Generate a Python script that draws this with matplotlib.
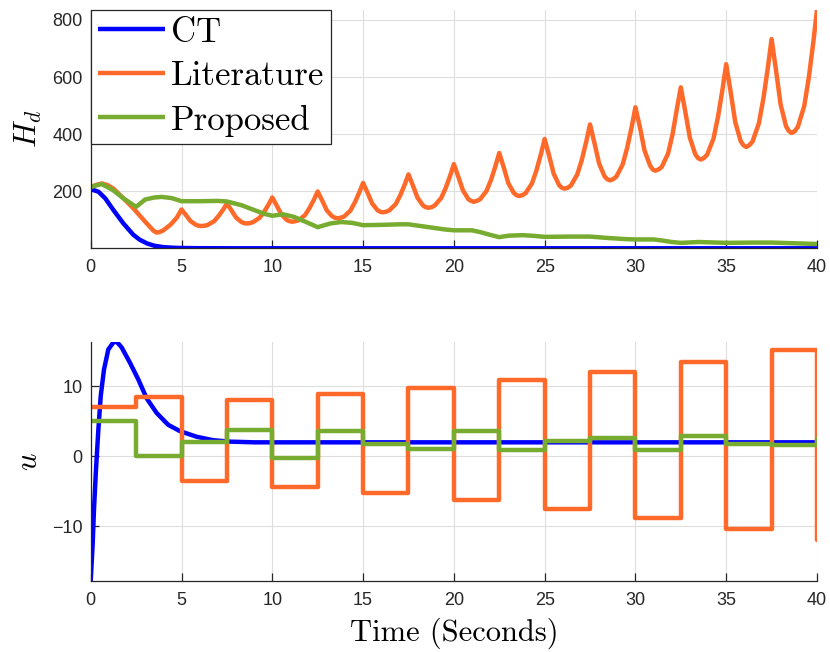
import matplotlib.pyplot as plt

plt.rcParams["mathtext.fontset"] = "cm"
plt.rcParams["font.family"] = "Liberation Sans"

CT_COLOR = "#0000FF"
LIT_COLOR = "#FF6929"
PROP_COLOR = "#77AC30"
AXIS_COLOR = "#262626"
GRID_COLOR = "#DEDEDE"

# ---- Hamiltonian H_d ----
t_hd_ct = [0, 0.2, 0.43, 0.8, 1.25, 1.8, 2.35, 2.7, 3.1, 3.5, 4.0, 4.5, 5.0, 6.0, 8.0, 40.0]
hd_ct = [207, 203, 198, 175, 134, 87, 47, 30, 17, 9, 4, 2, 1, 0.3, 0.05, 0.01]

t_hd_lit = [
    0, 0.3, 0.6, 0.9, 1.25, 1.8, 2.35, 3.0, 3.3, 3.45, 3.63, 3.8, 4.0, 4.4, 4.75, 5.0,
    5.25, 5.5, 5.8, 5.95, 6.1, 6.27, 6.45, 6.8, 7.05, 7.3, 7.5,
    7.75, 8.0, 8.3, 8.45, 8.6, 8.77, 8.95, 9.3, 9.55, 9.8, 10.0,
    10.25, 10.5, 10.8, 10.95, 11.1, 11.27, 11.45, 11.8, 12.05, 12.3, 12.5,
    12.75, 13.0, 13.3, 13.45, 13.6, 13.77, 13.95, 14.3, 14.55, 14.8, 15.0,
    15.25, 15.5, 15.8, 15.95, 16.1, 16.27, 16.45, 16.8, 17.05, 17.3, 17.5,
    17.75, 18.0, 18.3, 18.45, 18.6, 18.77, 18.95, 19.3, 19.55, 19.8, 20.0,
    20.25, 20.5, 20.8, 20.95, 21.1, 21.27, 21.45, 21.8, 22.05, 22.3, 22.5,
    22.75, 23.0, 23.3, 23.45, 23.6, 23.77, 23.95, 24.3, 24.55, 24.8, 25.0,
    25.25, 25.5, 25.8, 25.95, 26.1, 26.27, 26.45, 26.8, 27.05, 27.3, 27.5,
    27.75, 28.0, 28.3, 28.45, 28.6, 28.77, 28.95, 29.3, 29.55, 29.8, 30.0,
    30.25, 30.5, 30.8, 30.95, 31.1, 31.27, 31.45, 31.8, 32.05, 32.3, 32.5,
    32.75, 33.0, 33.3, 33.45, 33.6, 33.77, 33.95, 34.3, 34.55, 34.8, 35.0,
    35.25, 35.5, 35.8, 35.95, 36.1, 36.27, 36.45, 36.8, 37.05, 37.3, 37.5,
    37.75, 38.0, 38.3, 38.45, 38.6, 38.77, 38.95, 39.3, 39.55, 39.8, 40.0,
]
hd_lit = [
    215, 222, 227, 222, 209, 175, 140, 93, 72, 62, 55, 57, 63, 83, 108, 136,
    116, 95, 82, 79, 78, 79, 82, 95, 114, 136, 157,
    133, 108, 92, 88, 87, 88, 92, 107, 128, 154, 178,
    149, 119, 99, 95, 93, 95, 98, 116, 141, 171, 199,
    167, 133, 112, 107, 105, 107, 111, 132, 161, 197, 229,
    194, 157, 133, 128, 126, 128, 133, 155, 186, 224, 259,
    219, 177, 150, 144, 142, 144, 150, 176, 211, 255, 295,
    250, 203, 172, 166, 163, 166, 172, 201, 240, 290, 334,
    283, 228, 194, 186, 183, 186, 193, 227, 273, 331, 383,
    324, 261, 221, 212, 209, 212, 220, 259, 310, 376, 434,
    367, 297, 252, 242, 238, 242, 251, 294, 353, 427, 494,
    424, 343, 291, 276, 272, 276, 285, 332, 401, 494, 564,
    478, 387, 329, 316, 311, 316, 328, 384, 461, 558, 645,
    546, 442, 375, 361, 355, 361, 374, 438, 525, 635, 733,
    621, 503, 427, 411, 404, 410, 426, 499, 598, 723, 835,
]

t_hd_prop = [
    0, 0.6, 1.2, 1.8, 2.5, 3.0, 3.5, 3.9, 4.45, 5.0, 6.0, 7.0, 7.5,
    8.3, 9.0, 9.6, 10.0, 10.6, 11.2, 11.9, 12.5, 13.2, 13.8, 14.4, 15.0,
    16.0, 17.0, 17.5, 18.5, 19.5, 20.0, 21.0, 21.5, 22.0, 22.5, 23.0, 23.8,
    24.5, 25.0, 26.5, 27.5, 28.5, 29.5, 30.0, 31.0, 31.5, 32.0, 32.5, 33.5,
    34.5, 35.0, 36.5, 37.5, 38.5, 39.5, 40.0,
]
hd_prop = [
    215, 225, 205, 175, 145, 171, 178, 180, 176, 165, 165, 166, 164,
    151, 134, 120, 114, 119, 110, 91, 74, 87, 92, 89, 81,
    82, 84, 84, 75, 66, 63, 63, 56, 47, 39, 44, 46,
    43, 40, 41, 41, 36, 32, 31, 31, 27, 22, 19, 22,
    20, 19, 20, 20, 18, 16, 15,
]

# ---- Control input u ----
t_u_ct = [0, 0.11, 0.18, 0.29, 0.42, 0.55, 0.73, 0.97, 1.25, 1.43, 1.7, 2.16,
          2.62, 3.08, 3.63, 4.27, 4.92, 5.83, 6.75, 7.67, 9.0, 40.0]
u_ct = [-17.8, -12.4, -7.6, -1.9, 3.8, 8.6, 12.4, 15.3, 16.3, 16.4, 15.6, 13.4,
        11.0, 8.3, 6.2, 4.5, 3.6, 2.8, 2.3, 2.1, 2.0, 2.0]

t_switch = [0, 2.5, 5, 7.5, 10, 12.5, 15, 17.5, 20, 22.5, 25, 27.5, 30,
            32.5, 35, 37.5, 40]
u_lit = [7.0, 8.5, -3.5, 8.1, -4.4, 8.9, -5.3, 9.8, -6.3, 10.9, -7.5, 12.1,
         -8.8, 13.5, -10.4, 15.2, -12.0]
u_prop = [5.1, 0.1, 2.05, 3.7, -0.2, 3.6, 1.8, 1.05, 3.65, 0.87, 2.25, 2.6,
          0.96, 2.97, 1.77, 1.58, 2.5]

LW = 3.2
LINE_KW = dict(lw=LW, solid_joinstyle="round", solid_capstyle="round")


def style_axes(ax):
    ax.set_xlim(0, 40)
    ax.set_xticks(range(0, 41, 5))
    ax.grid(True, color=GRID_COLOR, linewidth=0.8)
    ax.set_axisbelow(True)
    for side in ("top", "right"):
        ax.spines[side].set_visible(False)
    for side in ("left", "bottom"):
        ax.spines[side].set_color(AXIS_COLOR)
        ax.spines[side].set_linewidth(0.9)
    ax.tick_params(direction="in", length=5.5, width=0.9, color=AXIS_COLOR,
                   labelcolor=AXIS_COLOR, labelsize=13)
    ax.tick_params(axis="x", pad=8)
    ax.tick_params(axis="y", pad=6)


fig = plt.figure(figsize=(8.3, 6.52), dpi=100)
ax_h = fig.add_axes([0.1093, 0.6192, 0.8750, 0.3655])
ax_u = fig.add_axes([0.1093, 0.1094, 0.8750, 0.3665])

ax_h.plot(t_hd_ct, hd_ct, color=CT_COLOR, label="CT", **LINE_KW)
ax_h.plot(t_hd_lit, hd_lit, color=LIT_COLOR, label="Literature", **LINE_KW)
ax_h.plot(t_hd_prop, hd_prop, color=PROP_COLOR, label="Proposed", **LINE_KW)
style_axes(ax_h)
ax_h.set_ylim(0, max(hd_lit))
ax_h.set_yticks([200, 400, 600, 800])
ax_h.set_ylabel(r"$H_d$", fontsize=22)
ax_h.yaxis.set_label_coords(-0.064, 0.5)

leg = ax_h.legend(loc="upper left", bbox_to_anchor=(0, 1), borderaxespad=0,
                  prop={"family": "cmr10", "size": 25}, handlelength=1.93,
                  handletextpad=0.17, labelspacing=0.35, borderpad=0.2,
                  fancybox=False, edgecolor=AXIS_COLOR, framealpha=1)
leg.get_frame().set_linewidth(0.9)
for line in leg.get_lines():
    line.set_solid_capstyle("butt")

ax_u.plot(t_u_ct, u_ct, color=CT_COLOR, **LINE_KW)
ax_u.plot(t_switch, u_lit, color=LIT_COLOR, drawstyle="steps-post", **LINE_KW)
ax_u.plot(t_switch, u_prop, color=PROP_COLOR, drawstyle="steps-post", **LINE_KW)
style_axes(ax_u)
ax_u.set_ylim(min(u_ct), max(u_ct))
ax_u.set_yticks([-10, 0, 10])
ax_u.set_ylabel(r"$u$", fontsize=22)
ax_u.yaxis.set_label_coords(-0.064, 0.5)
ax_u.set_xlabel("Time (Seconds)", fontfamily="cmr10", fontsize=22)
ax_u.xaxis.set_label_coords(0.5, -0.155)

fig.savefig("out.png", dpi=100)
